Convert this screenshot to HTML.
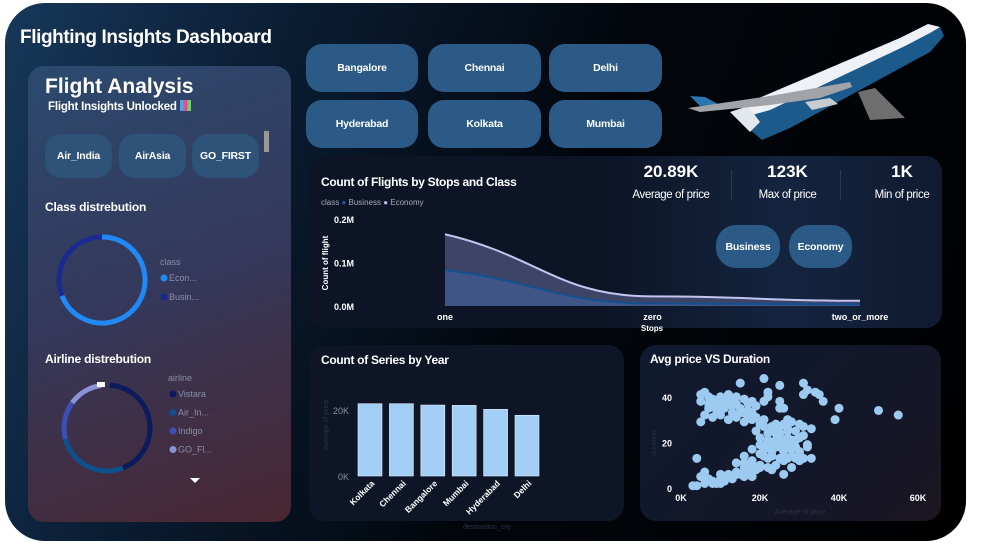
<!DOCTYPE html>
<html><head><meta charset="utf-8">
<style>
*{margin:0;padding:0;box-sizing:border-box}
body{width:981px;height:545px;background:#fff;font-family:"Liberation Sans",sans-serif;overflow:hidden;position:relative}
.frame{position:absolute;left:5px;top:3px;width:961px;height:538px;border-radius:40px;background:linear-gradient(110deg,#17385a 0%,#0b1d33 25%,#02060c 55%,#000 100%);overflow:hidden}
.abs{position:absolute}
.btn{position:absolute;background:#2b5a86;color:#fff;font-weight:bold;font-size:10.5px;display:flex;align-items:center;justify-content:center;border-radius:16px;letter-spacing:-0.2px}
.panel{position:absolute;background:#0d1527;border-radius:16px}
.t{position:absolute;color:#fff;font-weight:bold;white-space:nowrap}
</style></head><body>
<div class="frame"></div>
<div class="t" style="left:20px;top:27px;font-size:19px;letter-spacing:-0.4px">Flighting Insights Dashboard</div>

<div class="abs" style="left:28px;top:66px;width:263px;height:456px;border-radius:16px;background:linear-gradient(160deg,#2b4a6e 0%,#35385a 50%,#4a2631 100%)"></div>
<div class="t" style="left:45px;top:75px;font-size:21px">Flight Analysis</div>
<div class="t" style="left:48px;top:100px;font-size:11.5px;letter-spacing:-0.2px">Flight Insights Unlocked <span style="display:inline-block;width:11px;height:11px;background:linear-gradient(90deg,#5aa0e0 33%,#e05090 33%,#e05090 66%,#70d070 66%);vertical-align:-1px"></span></div>
<div class="btn" style="left:45px;top:134px;width:67px;height:44px;background:#2f5278">Air_India</div>
<div class="btn" style="left:119px;top:134px;width:67px;height:44px;background:#2f5278">AirAsia</div>
<div class="btn" style="left:192px;top:134px;width:67px;height:44px;background:#2f5278">GO_FIRST</div>
<div class="abs" style="left:264px;top:131px;width:5px;height:21px;background:#999"></div>
<div class="t" style="left:45px;top:200px;font-size:12px;letter-spacing:-0.2px">Class distrebution</div>
<div class="t" style="left:45px;top:352px;font-size:12px;letter-spacing:-0.2px">Airline distrebution</div>
<svg class="abs" style="left:0;top:0" width="981" height="545" id="donuts"></svg>

<div class="btn" style="left:306px;top:44px;width:112px;height:48px">Bangalore</div>
<div class="btn" style="left:428px;top:44px;width:113px;height:48px">Chennai</div>
<div class="btn" style="left:549px;top:44px;width:113px;height:48px">Delhi</div>
<div class="btn" style="left:306px;top:100px;width:112px;height:48px">Hyderabad</div>
<div class="btn" style="left:428px;top:100px;width:113px;height:48px">Kolkata</div>
<div class="btn" style="left:549px;top:100px;width:113px;height:48px">Mumbai</div>

<svg class="abs" style="left:0;top:0" width="981" height="160">
<polygon points="858,92 875,88 905,118 870,120" fill="#6e6e6e"/>
<polygon points="745,104 900,38 928,24 940,27 944,36 930,52 790,128 762,140 748,128" fill="#1d5a8c"/>
<polygon points="745,104 900,38 928,24 940,27 930,33 905,46 770,110 752,115" fill="#eef2f6"/>
<polygon points="730,112 748,106 760,122 750,132" fill="#e2e8ee"/>
<polygon points="690,96 705,97 718,104 700,106" fill="#2a77b0"/>
<polygon points="688,108 770,96 850,82 852,87 820,98 770,105 700,112" fill="#a0a4a8"/>
<polygon points="805,102 830,98 838,104 812,110" fill="#c8ccd0"/>
</svg>

<div class="panel" style="left:309px;top:156px;width:633px;height:172px;background:linear-gradient(90deg,#0c1425 45%,#14243f 75%,#101a30)"></div>
<div class="t" style="left:321px;top:175px;font-size:12px;letter-spacing:-0.3px">Count of Flights by Stops and Class</div>
<div class="abs" style="left:321px;top:198px;font-size:8px;color:#aab">class <span style="color:#1b5a9a">●</span> Business <span style="color:#b8b8e8">●</span> Economy</div>
<div class="t" style="left:627px;top:162px;font-size:17px;width:88px;text-align:center">20.89K</div>
<div class="abs" style="left:622px;top:189px;font-size:11.5px;color:#fff;width:98px;text-align:center;letter-spacing:-0.4px">Average of price</div>
<div class="abs" style="left:731px;top:170px;width:1px;height:30px;background:#2a3a55"></div>
<div class="t" style="left:745px;top:162px;font-size:17px;width:85px;text-align:center">123K</div>
<div class="abs" style="left:745px;top:189px;font-size:11.5px;color:#fff;width:85px;text-align:center;letter-spacing:-0.4px">Max of price</div>
<div class="abs" style="left:840px;top:170px;width:1px;height:30px;background:#2a3a55"></div>
<div class="t" style="left:862px;top:162px;font-size:17px;width:80px;text-align:center">1K</div>
<div class="abs" style="left:862px;top:189px;font-size:11.5px;color:#fff;width:80px;text-align:center;letter-spacing:-0.4px">Min of price</div>
<div class="btn" style="left:716px;top:225px;width:64px;height:43px;border-radius:20px">Business</div>
<div class="btn" style="left:789px;top:225px;width:63px;height:43px;border-radius:20px">Economy</div>
<svg class="abs" style="left:0;top:0" width="981" height="545" id="stops"></svg>

<div class="panel" style="left:309px;top:345px;width:315px;height:176px"></div>
<div class="t" style="left:321px;top:353px;font-size:12px;letter-spacing:-0.3px">Count of Series by Year</div>
<svg class="abs" style="left:0;top:0" width="981" height="545" id="bars"></svg>

<div class="panel" style="left:640px;top:345px;width:301px;height:176px;background:linear-gradient(135deg,#0f1a30,#151628 70%,#1c1620)"></div>
<div class="t" style="left:650px;top:352px;font-size:12px;letter-spacing:-0.3px">Avg price VS Duration</div>
<svg class="abs" style="left:0;top:0" width="981" height="545" id="scatter"></svg>

<script>
const NS='http://www.w3.org/2000/svg';
function mk(svg,tag,attrs,txt){const e=document.createElementNS(NS,tag);for(const k in attrs)e.setAttribute(k,attrs[k]);if(txt!==undefined)e.textContent=txt;svg.appendChild(e);return e;}

// ---------- donuts ----------
const classNames=['Econ...','Busin...'];
const classShares=[69,31];
const classColors=['#2189f5','#1a2a90'];
const airlineNames=['Vistara','Air_In...','Indigo','GO_Fl...'];
const airlineShares=[43,27,14,13];
const airlineColors=['#0c1a5e','#0f4f8c','#3b4fb5','#8a93d6'];
const dn=document.getElementById('donuts');
function donut(cx,cy,r,shares,colors,startShare){
  let acc=startShare;
  shares.forEach((v,i)=>{
    const a0=acc/100*2*Math.PI-Math.PI/2, a1=(acc+v)/100*2*Math.PI-Math.PI/2;acc+=v;
    const large=(a1-a0)>Math.PI?1:0;
    const p=mk(dn,'path',{d:`M${cx+r*Math.cos(a0)} ${cy+r*Math.sin(a0)} A${r} ${r} 0 ${large} 1 ${cx+r*Math.cos(a1)} ${cy+r*Math.sin(a1)}`,fill:'none',stroke:colors[i],'stroke-width':5});
    
    
  });
}
donut(102,280,43,classShares,classColors,0);
donut(107,428,43,airlineShares,airlineColors,1);
mk(dn,'rect',{x:97,y:382,width:8,height:5,fill:'#fff'});
mk(dn,'text',{x:160,y:265,fill:'#8a8fa8','font-size':9},'class');
classNames.forEach((n,i)=>{mk(dn,'circle',{cx:164,cy:278+i*19,r:3.5,fill:classColors[i]});mk(dn,'text',{x:169,y:281+i*19,fill:'#8a8fa8','font-size':9},n);});
mk(dn,'text',{x:168,y:381,fill:'#8a8fa8','font-size':9},'airline');
airlineNames.forEach((n,i)=>{mk(dn,'circle',{cx:173,cy:394+i*18.5,r:3.5,fill:airlineColors[i]});mk(dn,'text',{x:178,y:397+i*18.5,fill:'#8a8fa8','font-size':9},n);});
mk(dn,'polygon',{points:'190,478 200,478 195,483',fill:'#fff'});

// ---------- stops area chart ----------
const stopCats=['one','zero','two_or_more'];
const economyCounts=[0.165,0.022,0.012];
const businessCounts=[0.083,0.006,0.004];
const stopTicks=[0,0.1,0.2];
const st=document.getElementById('stops');
const sx=i=>445+i*207.5, sy=v=>306-v/0.1*43.5;
stopTicks.forEach(t=>mk(st,'text',{x:354,y:sy(t)+4,fill:'#fff','font-size':9,'font-weight':'bold','text-anchor':'end'},t.toFixed(1)+'M'));
stopCats.forEach((c,i)=>mk(st,'text',{x:sx(i),y:320,fill:'#fff','font-size':9,'font-weight':'bold','text-anchor':'middle'},c));
mk(st,'text',{x:652,y:331,fill:'#fff','font-size':8,'font-weight':'bold','text-anchor':'middle'},'Stops');
mk(st,'text',{x:0,y:0,fill:'#fff','font-size':8,'font-weight':'bold','text-anchor':'middle',transform:'translate(328,263) rotate(-90)'},'Count of flight');
function curve(vals){
  let d='M'+sx(0)+' '+sy(vals[0]);
  for(let i=1;i<vals.length;i++){const x0=sx(i-1),x1=sx(i),dx=(x1-x0)*0.45;
    d+=` C${x0+dx} ${sy(vals[i-1])+(i==1?(sy(vals[i])-sy(vals[i-1]))*0.35:0)} ${x1-dx} ${sy(vals[i])} ${x1} ${sy(vals[i])}`;}
  return d;
}
function area(vals,fill,stroke,name){
  const c=curve(vals);
  const a=mk(st,'path',{d:c+' L'+sx(vals.length-1)+' '+sy(0)+' L'+sx(0)+' '+sy(0)+'Z',fill});
  
  const l=mk(st,'path',{d:c,fill:'none',stroke,'stroke-width':2});
  
}
area(economyCounts,'#3d4466','#c4c4f0','economy');
area(businessCounts,'#3f5587','#14508f','business');

// ---------- bar chart ----------
const cities=['Kolkata','Chennai','Bangalore','Mumbai','Hyderabad','Delhi'];
const avgPrice=[21.9,21.9,21.5,21.4,20.2,18.4];
const barTicks=[0,20];
const bs=document.getElementById('bars');
const by=v=>476-v/20*66, bx=i=>358+i*31.4;
barTicks.forEach(t=>mk(bs,'text',{x:349,y:by(t)+4,fill:'#8a8fa0','font-size':9,'text-anchor':'end'},t+'K'));
mk(bs,'text',{x:0,y:0,fill:'#2a3145','font-size':7,'text-anchor':'middle',transform:'translate(328,425) rotate(-90)'},'Average of price');
cities.forEach((c,i)=>{
  const r=mk(bs,'rect',{x:bx(i),y:by(avgPrice[i]),width:24,height:by(0)-by(avgPrice[i]),fill:'#a3cff7',stroke:'#e0f0ff','stroke-width':0.6});
  
  
  mk(bs,'text',{x:0,y:0,fill:'#fff','font-size':8.5,'font-weight':'bold','text-anchor':'end',transform:`translate(${bx(i)+17},${484}) rotate(-45)`},c);
});
mk(bs,'text',{x:487,y:529,fill:'#2a3145','font-size':7,'text-anchor':'middle'},'destination_city');

// ---------- scatter ----------
const priceK=[21,15,25,31,32,34,31,35,36,40,39,50,55,22,22,25,25,26,5,6,5,7,8,10,12,14,16,18,19,7,9,11,13,15,17,6,8,10,12,14,16,18,20,19,5,15,17,21,20,22,24,26,28,30,25,23,27,29,31,32,30,28,26,24,22,21,27,29,33,32,30,22,24,20,18,19,16,14,12,10,8,6,4,3,5,7,9,11,13,15,17,4,6,20,23,26,18,16,28,25,21,31,33,30,27,11,9,13,24,26,28,23,25,27,29,9,11,13,7,10,12,14,16,18,17,19,21,23,25,27,22,24,26,28,20,22,24,26,28,30,21,23,25,27,29,31,14,16,18,20,22,10,12,14,16,18,8,10];
const durationH=[48,46,45,46,43,42,41,41,38,35,30,34,32,42,40,38,35,35,41,42,38,40,39,40,41,40,39,38,36,35,34,35,36,35,34,32,31,32,30,31,29,30,28,25,29,33,37,38,22,20,24,28,29,28,18,16,22,18,23,19,15,14,12,10,13,17,26,25,26,18,12,24,28,15,12,8,9,7,5,4,3,2,1,1,5,4,2,3,4,6,8,13,7,10,8,6,17,14,9,24,27,27,13,22,30,38,36,33,20,16,21,19,22,19,21,38,37,39,37,36,38,37,33,33,31,31,30,27,27,25,21,21,21,21,19,18,18,17,17,16,14,14,13,13,13,13,11,11,10,9,9,6,6,6,5,5,2,2];
const xTicks=[0,20,40,60], yTicks=[0,20,40];
const sc=document.getElementById('scatter');
const px=v=>681+v*3.95, py=v=>488-v*2.28;
xTicks.forEach(t=>mk(sc,'text',{x:px(t),y:501,fill:'#fff','font-size':9,'font-weight':'bold','text-anchor':'middle'},t+'K'));
yTicks.forEach(t=>mk(sc,'text',{x:672,y:py(t)+4,fill:'#fff','font-size':9,'font-weight':'bold','text-anchor':'end'},t));
mk(sc,'text',{x:800,y:514,fill:'#2a3145','font-size':7,'text-anchor':'middle'},'Average of price');
mk(sc,'text',{x:0,y:0,fill:'#2a3145','font-size':7,'text-anchor':'middle',transform:'translate(656,443) rotate(-90)'},'duration');
priceK.forEach((p,i)=>{
  const c=mk(sc,'circle',{cx:px(p),cy:py(durationH[i]),r:4.5,fill:'#9ccaf0'});
  
  
});
</script>
</body></html>
